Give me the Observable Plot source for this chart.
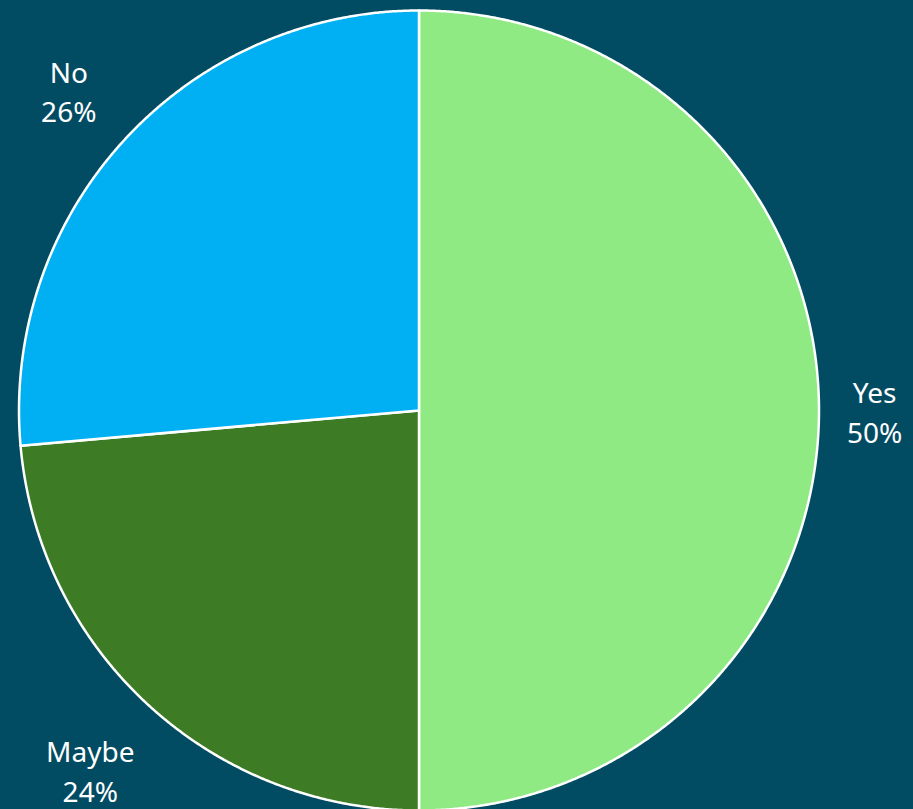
<!DOCTYPE html>
<html>
<head>
<meta charset="utf-8">
<script src="https://cdn.jsdelivr.net/npm/d3@7"></script>
<script src="https://cdn.jsdelivr.net/npm/@observablehq/plot@0.6"></script>
<style>
  html, body { margin: 0; padding: 0; background: #024c63; overflow: hidden; }
  #chart svg { display: block; }
</style>
</head>
<body>
<div id="chart"></div>
<script>
// Data
const categories = ["Yes", "Maybe", "No"];
const values = [50, 23.6, 26.4];
const colors = ["#90ea84", "#3d7c24", "#00b0f2"];

// Layout
const W = 913, H = 809;
const cx = 418.5, cy = 410, R = 400;
const fontSize = 28, fontFamily = "'Noto Sans', sans-serif";
const labelPad = 28;

const total = d3.sum(values);
const pie = d3.pie().sort(null).value(d => d.value)(categories.map((c, i) => ({name: c, value: values[i]})));

// Build slice polygons in unit coordinates (y up)
const polyPts = [];
pie.forEach(s => {
  const n = Math.max(2, Math.ceil((s.endAngle - s.startAngle) / (Math.PI / 720)));
  polyPts.push({name: s.data.name, x: 0, y: 0});
  for (let k = 0; k <= n; k++) {
    const a = s.startAngle + (s.endAngle - s.startAngle) * k / n;
    polyPts.push({name: s.data.name, x: Math.sin(a), y: Math.cos(a)});
  }
  polyPts.push({name: s.data.name, x: 0, y: 0});
});

// Label positions: just outside the circle, box-aware
const canvas = document.createElement("canvas");
const ctx = canvas.getContext("2d");
ctx.font = `${fontSize}px ${fontFamily}`;
const lineH = fontSize * 1.4;
const fmt = d3.format(".0%");
const labels = pie.map(s => {
  const lines = [s.data.name, fmt(s.data.value / total)];
  const w = d3.max(lines, l => ctx.measureText(l).width);
  const h = lineH * lines.length;
  const a = (s.startAngle + s.endAngle) / 2;
  const sx = Math.sin(a), sy = Math.cos(a);
  const dist = R + labelPad + Math.abs(sx) * w / 2 + Math.abs(sy) * h / 2;
  return {text: lines.join("\n"), x: sx * dist / R, y: sy * dist / R};
});

const chart = Plot.plot({
  width: W,
  height: H,
  margin: 0,
  style: {background: "transparent", overflow: "visible"},
  x: {domain: [-cx / R, (W - cx) / R], axis: null},
  y: {domain: [-(H - cy) / R, cy / R], axis: null},
  color: {domain: categories, range: colors},
  marks: [
    Plot.line(polyPts, {x: "x", y: "y", z: "name", fill: "name", stroke: "white", strokeWidth: 2.5, strokeLinejoin: "round"}),
    Plot.text(labels, {x: "x", y: "y", text: "text", fill: "white", fontSize, fontFamily, lineHeight: 1.4, textAnchor: "middle", lineAnchor: "middle"})
  ]
});
document.getElementById("chart").appendChild(chart);
</script>
</body>
</html>
